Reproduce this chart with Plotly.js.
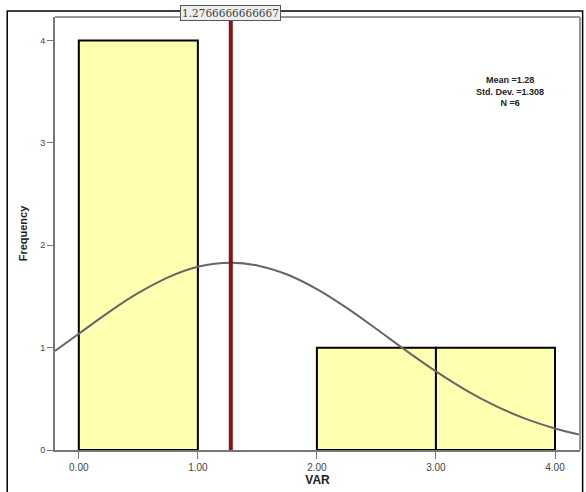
<!DOCTYPE html>
<html><head><meta charset="utf-8">
<script src="https://cdn.plot.ly/plotly-3.0.1.min.js"></script>
<style>html,body{margin:0;padding:0;background:#fff}#chart{width:586px;height:492px}</style>
</head><body><div id="chart"></div>
<script>
// Histogram bins (centre, frequency)
const binCenters = [0.5, 2.5, 3.5];
const binCounts = [4, 1, 1];
// Normal curve
const curveX = [-0.2, 0, 0.25, 0.5, 0.75, 1, 1.28, 1.5, 1.75, 2, 2.25, 2.5, 2.75, 3, 3.25, 3.5, 3.75, 4, 4.2];
const curveY = [0.968, 1.136, 1.345, 1.534, 1.687, 1.790, 1.830, 1.803, 1.714, 1.571, 1.388, 1.182, 0.970, 0.768, 0.586, 0.432, 0.306, 0.210, 0.151];
const meanValue = 1.2766666666667;
const meanLabel = "1.2766666666667";
const statsText = "Mean =1.28<br>Std. Dev. =1.308<br>N =6";
const xTickVals = [0, 1, 2, 3, 4];
const xTickText = ["0.00", "1.00", "2.00", "3.00", "4.00"];
const yTickVals = [0, 1, 2, 3, 4];

const traces = [
  {type: 'bar', x: binCenters, y: binCounts, width: 1,
   marker: {color: '#ffffb0', line: {color: '#000', width: 2}}, hoverinfo: 'none'},
  {type: 'scatter', mode: 'lines', x: curveX, y: curveY,
   line: {color: '#666', width: 2, shape: 'spline'}, hoverinfo: 'none'}
];

const layout = {
  width: 586, height: 492,
  margin: {l: 55, r: 6, t: 17, b: 42},
  paper_bgcolor: '#fff', plot_bgcolor: '#fff',
  showlegend: false,
  font: {family: 'Liberation Sans, Arial, sans-serif', color: '#333'},
  xaxis: {range: [-0.2, 4.21], tickvals: xTickVals, ticktext: xTickText,
    showgrid: false, zeroline: false, showline: true, linecolor: '#777', linewidth: 2,
    ticks: 'outside', ticklen: 7, tickcolor: '#777', tickwidth: 1,
    tickfont: {size: 10, color: '#444'},
    title: {text: '<b>VAR</b>', font: {size: 12, color: '#222'}, standoff: 4}},
  yaxis: {range: [0, 4.23], tickvals: yTickVals,
    showgrid: false, zeroline: false, showline: true, linecolor: '#777', linewidth: 2,
    ticks: 'outside', ticklen: 6, tickcolor: '#777', tickwidth: 1,
    tickfont: {size: 9, color: '#444'},
    title: {text: '<b>Frequency</b>', font: {size: 11, color: '#222'}, standoff: 10}},
  shapes: [
    {type: 'line', xref: 'x', yref: 'y', x0: meanValue, x1: meanValue, y0: 0, y1: 4.23,
     line: {color: '#8b1010', width: 4}},
    {type: 'line', xref: 'paper', yref: 'paper', x0: 0, x1: 1, y0: 1, y1: 1,
     line: {color: '#999', width: 2}},
    {type: 'line', xref: 'paper', yref: 'paper', x0: 1, x1: 1, y0: 0, y1: 1,
     line: {color: '#999', width: 2}},
    {type: 'rect', xref: 'paper', yref: 'paper', x0: -0.091, x1: 1.005, y0: -0.2, y1: 1.014,
     line: {color: '#000', width: 1.5}}
  ],
  annotations: [
    {xref: 'x', yref: 'paper', x: meanValue, y: 1.01, yanchor: 'middle', xanchor: 'center',
     text: meanLabel, showarrow: false, font: {size: 10.5, color: '#444', family: 'DejaVu Serif, serif'},
     bordercolor: '#555', borderwidth: 1, borderpad: 1, bgcolor: '#eee'},
    {xref: 'x', yref: 'y', x: 3.62, y: 3.5, xanchor: 'center', yanchor: 'middle',
     text: '<b>' + statsText + '</b>', showarrow: false, align: 'center',
     font: {size: 9, color: '#222'}}
  ]
};
Plotly.newPlot('chart', traces, layout, {staticPlot: true, displayModeBar: false});
</script></body></html>
